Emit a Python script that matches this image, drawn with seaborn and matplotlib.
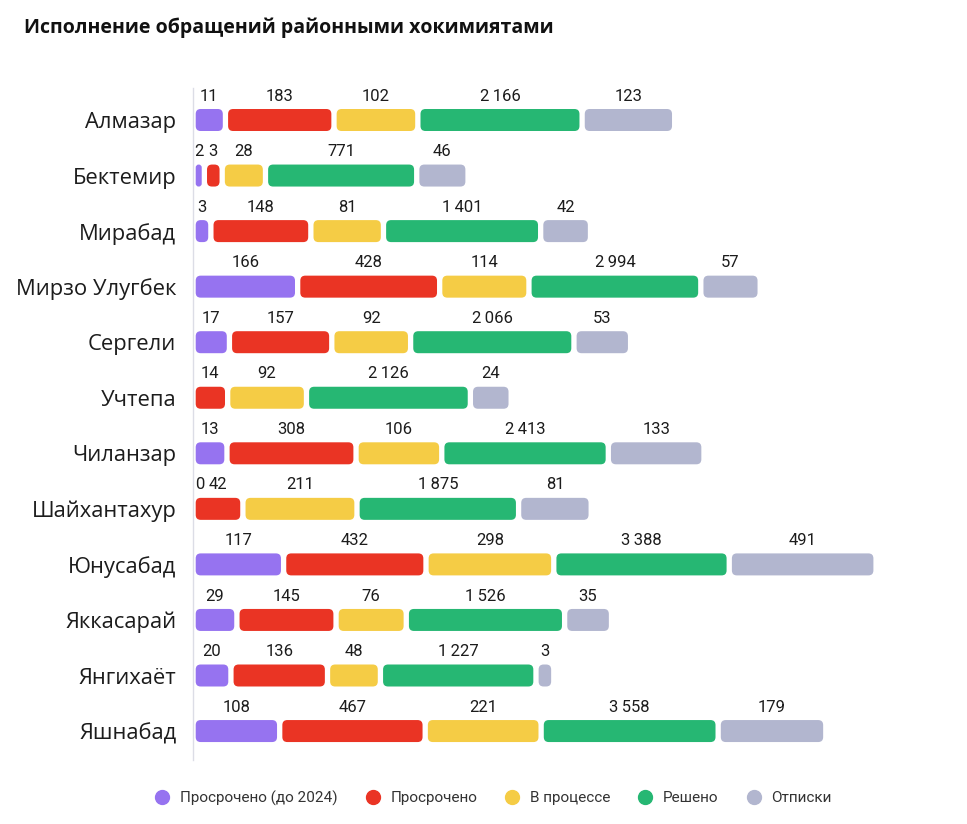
import numpy as np
import pandas as pd
import matplotlib
matplotlib.use("Agg")
import matplotlib.pyplot as plt
import seaborn as sns
from matplotlib.patches import FancyBboxPatch
from matplotlib.lines import Line2D

# ---------------- data ----------------
districts = ["Алмазар", "Бектемир", "Мирабад", "Мирзо Улугбек", "Сергели", "Учтепа",
             "Чиланзар", "Шайхантахур", "Юнусабад", "Яккасарай", "Янгихаёт", "Яшнабад"]
overdue_pre2024 = [11, 2, 3, 166, 17, np.nan, 13, 0, 117, 29, 20, 108]
overdue = [183, 3, 148, 428, 157, 14, 308, 42, 432, 145, 136, 467]
in_progress = [102, 28, 81, 114, 92, 92, 106, 211, 298, 76, 48, 221]
solved = [2166, 771, 1401, 2994, 2066, 2126, 2413, 1875, 3388, 1526, 1227, 3558]
formal_replies = [123, 46, 42, 57, 53, 24, 133, 81, 491, 35, 3, 179]

series_names = ["Просрочено (до 2024)", "Просрочено", "В процессе", "Решено", "Отписки"]
series_values = [overdue_pre2024, overdue, in_progress, solved, formal_replies]
series_colors = ["#9673F0", "#EA3424", "#F5CC45", "#26B773", "#B2B6CF"]

title = "Исполнение обращений районными хокимиятами"

# ------------- compressed length scale used by the original chart -------------
SCALE_VALUES = [1, 2, 3, 11, 20, 46, 81, 117, 183, 298, 480, 771, 3558]
SCALE_LENGTHS = [0, 6, 12.5, 27, 32.4, 45.6, 66.6, 84.2, 101.6, 119.8, 137, 139, 139.7]
LINEAR_TAIL = 0.009
GAP = 5.3
ROW_PX = 55.55


def seg_len(values):
    v = np.nan_to_num(np.asarray(values, float))
    out = np.interp(np.log(np.maximum(v, 1)), np.log(SCALE_VALUES), SCALE_LENGTHS) + LINEAR_TAIL * v
    return np.where(v > 0, out, 0.0)


def fmt(v):
    return f"{int(v):,}".replace(",", "\u2009")


sns.set_style("white")
plt.rcParams["font.family"] = ["Open Sans", "DejaVu Sans"]

fig = plt.figure(figsize=(9.67, 8.24), dpi=100)
ax = fig.add_axes([193 / 967, 1 - 760 / 824, 747 / 967, 672 / 824])

cursor = np.zeros(len(districts))
layout = []
for name, vals, col in zip(series_names, series_values, series_colors):
    widths = seg_len(vals)
    lefts = cursor.copy()
    sns.barplot(x=widths, y=districts, order=districts, orient="h", color=col,
                saturation=1, errorbar=None, width=22 / ROW_PX, left=lefts, ax=ax)
    layout.append((vals, lefts, widths))
    cursor = cursor + widths + np.where(widths > 0, GAP, 0.0)

# round the corners of the segments
for p in list(ax.patches):
    x0, y0, w, h = p.get_x(), p.get_y(), p.get_width(), p.get_height()
    fc = p.get_facecolor()
    p.remove()
    if w <= 0:
        continue
    r = min(5.0, w / 2)
    ax.add_patch(FancyBboxPatch((x0, y0), w, h,
                                boxstyle=f"round,pad=0,rounding_size={r}",
                                mutation_aspect=1 / ROW_PX, fc=fc, ec="none"))

# value labels
for vals, lefts, widths in layout:
    for i, v in enumerate(vals):
        if v is None or (isinstance(v, float) and np.isnan(v)):
            continue
        cx = lefts[i] + widths[i] / 2 if widths[i] > 0 else lefts[i] + 3.8
        ax.text(cx, i - 0.43, fmt(v), ha="center", va="center", fontsize=12,
                family=["Roboto", "DejaVu Sans"], color="#1c1c1c")

ax.set_xlim(-2.7, 747 - 2.7)
ax.set_ylim((760 - 120) / ROW_PX, -(120 - 88) / ROW_PX)
ax.set_xlabel("")
ax.set_ylabel("")
ax.set_xticks([])
ax.tick_params(axis="y", length=0, pad=12, labelsize=15.8, labelcolor="#1c1c1c")
for s in ["top", "right", "bottom"]:
    ax.spines[s].set_visible(False)
ax.spines["left"].set_color("#dcdde6")
ax.spines["left"].set_linewidth(1)
ax.grid(False)

fig.text(24 / 967, 1 - 28 / 824, title, fontsize=14, weight="bold",
         family=["Open Sans", "DejaVu Sans"], ha="left", va="center", color="#111111")

handles = [Line2D([0], [0], marker="o", linestyle="none", markersize=10,
                  markerfacecolor=c, markeredgecolor=c) for c in series_colors]
fig.legend(handles, series_names, loc="center", bbox_to_anchor=(0.506, 1 - 798 / 824),
           ncol=5, frameon=False, handletextpad=0.15, columnspacing=1.3,
           labelcolor="#333333", prop={"family": ["Roboto", "DejaVu Sans"], "size": 11})

fig.savefig("out.png", dpi=100, facecolor="white")
